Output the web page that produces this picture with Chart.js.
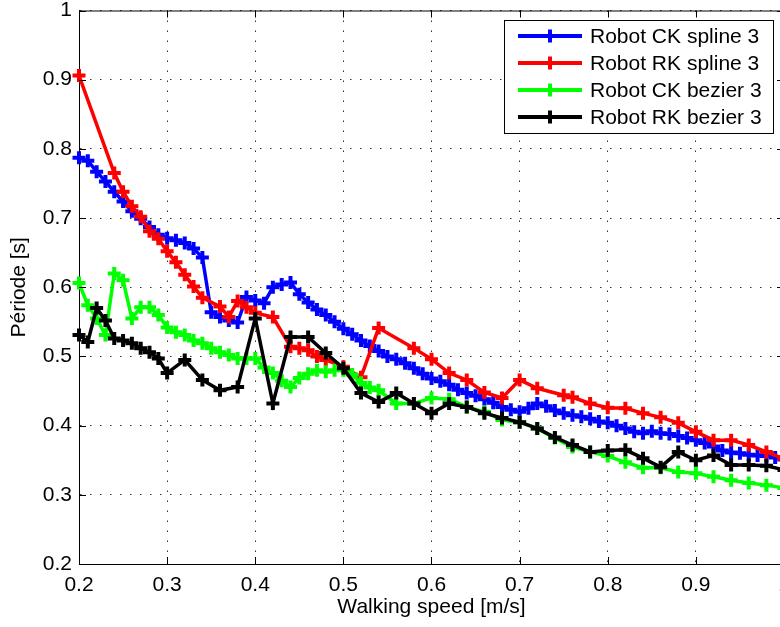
<!DOCTYPE html>
<html>
<head>
<meta charset="utf-8">
<script src="https://cdn.jsdelivr.net/npm/chart.js@4/dist/chart.umd.min.js"></script>
<style>
  html, body { margin: 0; padding: 0; background: #fff; overflow: hidden; }
  #wrap { width: 800px; height: 627px; }
</style>
</head>
<body>
<div id="wrap"><canvas id="chart" width="800" height="627"></canvas></div>
<script>
// Period vs walking speed, four robot gait variants

const xTickLabels = ['0.2', '0.3', '0.4', '0.5', '0.6', '0.7', '0.8', '0.9', '1'];
const yTickLabels = ['0.2', '0.3', '0.4', '0.5', '0.6', '0.7', '0.8', '0.9', '1'];

const seriesNames = ['Robot CK spline 3', 'Robot RK spline 3', 'Robot CK bezier 3', 'Robot RK bezier 3'];
const seriesColors = ['#0000ff', '#ff0000', '#00ff00', '#000000'];

// Robot CK spline 3
const ckSplineX = [0.20, 0.21, 0.22, 0.23, 0.24, 0.25, 0.26, 0.27, 0.28, 0.29,
  0.30, 0.31, 0.32, 0.33, 0.34, 0.35, 0.36, 0.37, 0.38, 0.39,
  0.40, 0.41, 0.42, 0.43, 0.44, 0.45, 0.46, 0.47, 0.48, 0.49,
  0.50, 0.51, 0.52, 0.53, 0.54, 0.55, 0.56, 0.57, 0.58, 0.59,
  0.60, 0.61, 0.62, 0.63, 0.64, 0.65, 0.66, 0.67, 0.68, 0.69,
  0.70, 0.71, 0.72, 0.73, 0.74, 0.75, 0.76, 0.77, 0.78, 0.79,
  0.80, 0.81, 0.82, 0.83, 0.84, 0.85, 0.86, 0.87, 0.88, 0.89,
  0.90, 0.91, 0.92, 0.93, 0.94, 0.95, 0.96, 0.97, 0.98, 0.99, 1.00];
const ckSplineY = [0.787, 0.783, 0.767, 0.753, 0.738, 0.724, 0.710, 0.699, 0.687, 0.676,
  0.671, 0.668, 0.664, 0.656, 0.643, 0.564, 0.557, 0.552, 0.549, 0.586,
  0.581, 0.577, 0.600, 0.604, 0.607, 0.590, 0.578, 0.568, 0.560, 0.550,
  0.540, 0.532, 0.523, 0.515, 0.508, 0.500, 0.496, 0.490, 0.483, 0.475,
  0.468, 0.464, 0.459, 0.452, 0.447, 0.443, 0.438, 0.433, 0.427, 0.423,
  0.420, 0.425, 0.432, 0.428, 0.422, 0.418, 0.415, 0.413, 0.410, 0.406,
  0.404, 0.400, 0.396, 0.391, 0.389, 0.392, 0.389, 0.388, 0.385, 0.382,
  0.379, 0.375, 0.370, 0.364, 0.361, 0.360, 0.358, 0.357, 0.356, 0.354, 0.351];

// Robot RK spline 3
const rkSplineX = [0.20, 0.24, 0.25, 0.26, 0.27, 0.28, 0.29, 0.30, 0.31, 0.32,
  0.33, 0.34, 0.36, 0.37, 0.38, 0.39, 0.40, 0.42, 0.44, 0.45,
  0.46, 0.47, 0.48, 0.50, 0.52, 0.54, 0.58, 0.60, 0.62, 0.64,
  0.66, 0.68, 0.70, 0.72, 0.75, 0.76, 0.78, 0.80, 0.82, 0.84,
  0.86, 0.88, 0.90, 0.92, 0.94, 0.96, 0.98, 1.00];
const rkSplineY = [0.906, 0.765, 0.738, 0.717, 0.702, 0.681, 0.670, 0.652, 0.636, 0.618,
  0.601, 0.585, 0.572, 0.557, 0.580, 0.571, 0.563, 0.557, 0.514, 0.512,
  0.509, 0.500, 0.495, 0.485, 0.470, 0.541, 0.512, 0.496, 0.476, 0.466,
  0.448, 0.440, 0.466, 0.454, 0.444, 0.441, 0.432, 0.426, 0.425, 0.418,
  0.412, 0.404, 0.391, 0.379, 0.379, 0.372, 0.362, 0.352];

// Robot CK bezier 3
const ckBezierX = [0.20, 0.21, 0.22, 0.23, 0.24, 0.25, 0.26, 0.27, 0.28, 0.29,
  0.30, 0.31, 0.32, 0.33, 0.34, 0.35, 0.36, 0.37, 0.38, 0.39,
  0.40, 0.41, 0.42, 0.43, 0.44, 0.45, 0.46, 0.47, 0.48, 0.49,
  0.50, 0.51, 0.52, 0.53, 0.54, 0.56, 0.58, 0.60, 0.62, 0.64,
  0.66, 0.68, 0.70, 0.72, 0.74, 0.76, 0.78, 0.80, 0.82, 0.84,
  0.86, 0.88, 0.90, 0.92, 0.94, 0.96, 0.98, 1.00];
const ckBezierY = [0.606, 0.574, 0.555, 0.531, 0.620, 0.610, 0.555, 0.571, 0.571, 0.560,
  0.542, 0.535, 0.531, 0.523, 0.519, 0.512, 0.506, 0.502, 0.497, 0.497,
  0.497, 0.484, 0.476, 0.465, 0.456, 0.469, 0.475, 0.480, 0.478, 0.480,
  0.480, 0.474, 0.462, 0.455, 0.451, 0.432, 0.432, 0.440, 0.438, 0.427,
  0.420, 0.408, 0.405, 0.396, 0.382, 0.369, 0.362, 0.356, 0.347, 0.339,
  0.339, 0.333, 0.331, 0.326, 0.321, 0.317, 0.314, 0.310];

// Robot RK bezier 3
const rkBezierX = [0.20, 0.21, 0.22, 0.23, 0.24, 0.25, 0.26, 0.27, 0.28, 0.29,
  0.30, 0.32, 0.34, 0.36, 0.38, 0.40, 0.42, 0.44, 0.46, 0.48,
  0.50, 0.52, 0.54, 0.56, 0.58, 0.60, 0.62, 0.64, 0.66, 0.68,
  0.70, 0.72, 0.74, 0.76, 0.78, 0.80, 0.82, 0.84, 0.86, 0.88,
  0.90, 0.92, 0.94, 0.96, 0.98, 1.00];
const rkBezierY = [0.531, 0.521, 0.570, 0.552, 0.526, 0.523, 0.519, 0.512, 0.506, 0.497,
  0.476, 0.495, 0.466, 0.451, 0.456, 0.555, 0.432, 0.528, 0.528, 0.505,
  0.483, 0.447, 0.434, 0.447, 0.432, 0.418, 0.432, 0.427, 0.418, 0.411,
  0.405, 0.396, 0.383, 0.372, 0.362, 0.364, 0.365, 0.353, 0.340, 0.362,
  0.350, 0.357, 0.343, 0.343, 0.342, 0.336];

const FONT = '"Liberation Sans", Arial, Helvetica, sans-serif';
const FS = 21;

function pts(xs, ys) { return xs.map((x, i) => ({ x, y: ys[i] })); }

const seriesData = [
  pts(ckSplineX, ckSplineY),
  pts(rkSplineX, rkSplineY),
  pts(ckBezierX, ckBezierY),
  pts(rkBezierX, rkBezierY)
];

/* ---------- frame, inward ticks, legend ---------- */
const framePlugin = {
  id: 'frame',
  afterDatasetsDraw(chart) {
    const { ctx, chartArea: a, scales } = chart;
    const tl = 7;
    ctx.save();
    ctx.strokeStyle = '#000';
    ctx.lineWidth = 1;
    ctx.beginPath();
    ctx.moveTo(a.left, a.top + 0.5); ctx.lineTo(a.right, a.top + 0.5);
    ctx.moveTo(a.right - 0.5, a.top); ctx.lineTo(a.right - 0.5, a.bottom);
    scales.x.ticks.forEach(t => {
      const px = Math.round(scales.x.getPixelForValue(t.value)) + 0.5;
      ctx.moveTo(px, a.bottom); ctx.lineTo(px, a.bottom - tl);
      ctx.moveTo(px, a.top); ctx.lineTo(px, a.top + tl);
    });
    scales.y.ticks.forEach(t => {
      const py = Math.round(scales.y.getPixelForValue(t.value)) + 0.5;
      ctx.moveTo(a.left, py); ctx.lineTo(a.left + tl, py);
      ctx.moveTo(a.right, py); ctx.lineTo(a.right - tl, py);
    });
    ctx.stroke();

    // legend box, top right inside the axes
    const bx = 504, by = 20, bw = 269, bh = 113;
    ctx.fillStyle = '#fff';
    ctx.fillRect(bx, by, bw, bh);
    ctx.strokeRect(bx + 0.5, by + 0.5, bw, bh);
    ctx.font = FS + 'px ' + FONT;
    ctx.textBaseline = 'middle';
    ctx.textAlign = 'left';
    seriesNames.forEach((name, i) => {
      const y = by + 16 + i * 27;
      ctx.strokeStyle = seriesColors[i];
      ctx.lineWidth = 4;
      ctx.beginPath();
      ctx.moveTo(518, y); ctx.lineTo(582, y);
      ctx.stroke();
      ctx.lineWidth = 4;
      ctx.beginPath();
      ctx.moveTo(550, y - 6.5); ctx.lineTo(550, y + 6.5);
      ctx.moveTo(543.5, y); ctx.lineTo(556.5, y);
      ctx.stroke();
      ctx.fillStyle = '#000';
      ctx.fillText(name, 590, y + 1);
    });
    ctx.restore();
  }
};

const datasets = seriesData.map((d, i) => ({
  label: seriesNames[i],
  data: d,
  borderColor: seriesColors[i],
  backgroundColor: seriesColors[i],
  borderWidth: 3.5,
  pointStyle: 'cross',
  pointRadius: 6.5,
  pointBorderWidth: 4,
  pointBorderColor: seriesColors[i],
  pointHoverRadius: 6.5,
  showLine: true,
  tension: 0,
  clip: false,
  order: 4 - i
}));

const gridStyle = {
  color: '#333',
  lineWidth: 1,
  drawTicks: false
};

new Chart(document.getElementById('chart'), {
  type: 'scatter',
  data: { datasets },
  options: {
    responsive: false,
    animation: false,
    devicePixelRatio: 1,
    layout: { padding: { left: 0, top: 10, right: 16, bottom: 0 } },
    plugins: { legend: { display: false }, tooltip: { enabled: false } },
    scales: {
      x: {
        type: 'linear',
        min: 0.2, max: 1,
        afterFit(s) { s.height = 63; s.paddingLeft = 0; s.paddingRight = 0; },
        border: { display: true, color: '#000', width: 1, dash: [1.5, 8.5] },
        grid: gridStyle,
        ticks: {
          stepSize: 0.1,
          color: '#000',
          padding: 9,
          maxRotation: 0,
          font: { family: FONT, size: FS },
          callback: (v) => xTickLabels[Math.round((v - 0.2) * 10)]
        },
        title: {
          display: true,
          text: 'Walking speed [m/s]',
          color: '#000',
          font: { family: FONT, size: FS },
          padding: { top: 0, bottom: 7 }
        }
      },
      y: {
        type: 'linear',
        min: 0.2, max: 1,
        afterFit(s) { s.width = 79; s.paddingTop = 0; s.paddingBottom = 0; },
        border: { display: true, color: '#000', width: 1, dash: [1.5, 8.5] },
        grid: gridStyle,
        ticks: {
          stepSize: 0.1,
          color: '#000',
          padding: 7,
          font: { family: FONT, size: FS },
          callback: (v) => yTickLabels[Math.round((v - 0.2) * 10)]
        },
        title: {
          display: true,
          text: 'Période [s]',
          color: '#000',
          font: { family: FONT, size: FS },
          padding: { top: 7, bottom: 0 }
        }
      }
    }
  },
  plugins: [framePlugin]
});
</script>
</body>
</html>
